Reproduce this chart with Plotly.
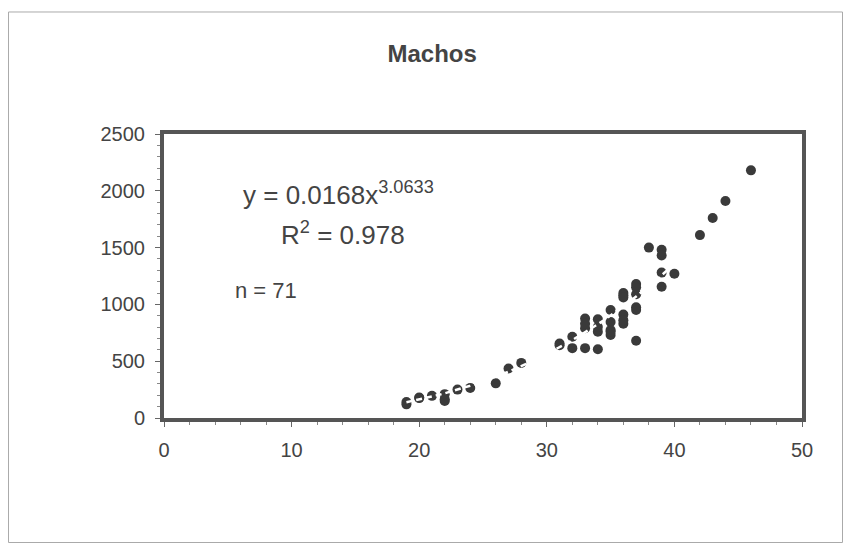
import plotly.graph_objects as go

# length (x) vs weight (y), males
length = [19, 19, 20, 20, 21, 22, 22, 22, 23, 24, 26, 27, 28,
          31, 31, 32, 32,
          33, 33, 33, 33,
          34, 34, 34, 34,
          35, 35, 35, 35, 35,
          36, 36, 36, 36, 36, 36,
          37, 37, 37, 37, 37, 37,
          38, 39, 39, 39, 39, 40,
          42, 43, 44, 46]
weight = [120, 140, 180, 175, 195, 165, 150, 210, 250, 265, 305, 435, 485,
          655, 640, 715, 615,
          875, 790, 615, 830,
          870, 760, 605, 800,
          950, 845, 775, 730, 760,
          1100, 1080, 910, 830, 860, 1060,
          1180, 1090, 975, 950, 680, 1150,
          1500, 1480, 1430, 1280, 1155, 1270,
          1610, 1760, 1910, 2180]

# power trendline y = a * x^b as printed on the chart
coef_a = 0.0168
coef_b = 3.0633
trend_x = [19 + i * 0.5 for i in range(43)]
trend_y = [coef_a * v ** coef_b for v in trend_x]

font = "Liberation Sans, Arial, sans-serif"
ink = "#444444"

fig = go.Figure()

fig.add_trace(go.Scatter(
    x=length, y=weight, mode="markers",
    marker=dict(size=10, color="#3a3a3a"),
    showlegend=False,
))

fig.add_trace(go.Scatter(
    x=trend_x, y=trend_y, mode="lines",
    line=dict(color="white", width=2.5, dash="6px,4px"),
    showlegend=False,
))

axis_style = dict(
    showline=True, linewidth=4, linecolor="#555555", mirror=True,
    showgrid=False, zeroline=False,
    ticks="outside", ticklen=5, tickcolor="#666666",
    tickfont=dict(family=font, size=20, color=ink),
)

fig.update_xaxes(range=[0, 50], dtick=10, ticklabelstandoff=6,
                 minor=dict(dtick=2, ticks="outside", ticklen=3, tickcolor="#888888"),
                 **axis_style)
fig.update_yaxes(range=[0, 2500], dtick=500, ticklabelstandoff=6,
                 minor=dict(dtick=100, ticks="outside", ticklen=3, tickcolor="#888888"),
                 **axis_style)

fig.add_annotation(x=6.0, y=1980, xref="x", yref="y",
                   text="y = 0.0168x<sup>3.0633</sup>", showarrow=False,
                   xanchor="left", font=dict(family=font, size=26, color=ink))
fig.add_annotation(x=9.0, y=1625, xref="x", yref="y",
                   text="R<sup>2</sup> = 0.978", showarrow=False,
                   xanchor="left", font=dict(family=font, size=26, color=ink))
fig.add_annotation(x=5.4, y=1120, xref="x", yref="y",
                   text="n = 71", showarrow=False,
                   xanchor="left", font=dict(family=font, size=22, color=ink))

# outer chart frame
fig.add_shape(type="rect", xref="paper", yref="paper",
              x0=-0.2437, x1=1.0635, y0=-0.4384, y1=1.4296,
              line=dict(color="#aaaaaa", width=1))

# page body adds an 8px margin, so the figure is sized to fit inside it
fig.update_layout(
    width=835, height=535,
    margin=dict(l=156, r=41, t=126, b=125),
    paper_bgcolor="white", plot_bgcolor="white",
    title=dict(text="<b>Machos</b>", x=0.508, xanchor="center",
               y=0.915, yanchor="middle",
               font=dict(family=font, size=24, color=ink)),
)

fig.write_html("out.html")
